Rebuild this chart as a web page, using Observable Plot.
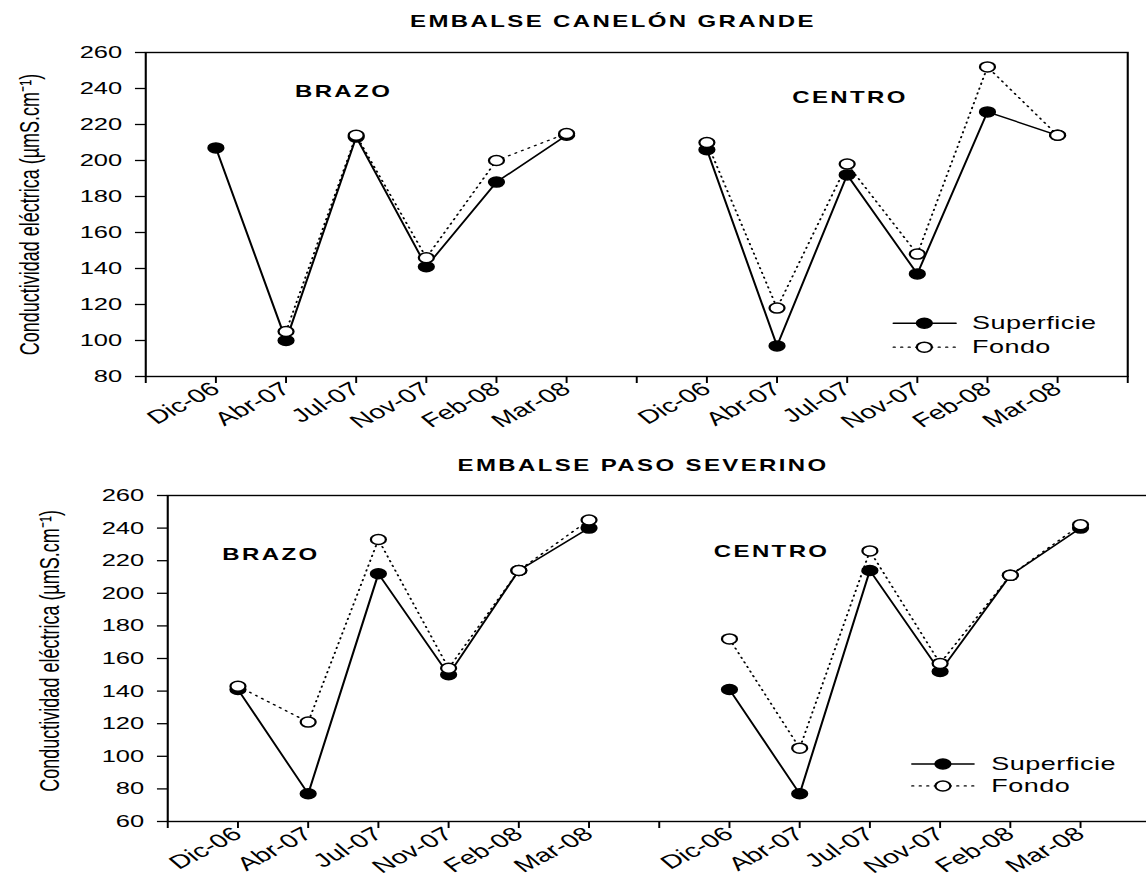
<!DOCTYPE html>
<html><head><meta charset="utf-8">
<script src="https://cdn.jsdelivr.net/npm/d3@7"></script>
<script src="https://cdn.jsdelivr.net/npm/@observablehq/plot@0.6"></script>
<style>
html,body{margin:0;padding:0;background:#fff;overflow:hidden;width:1146px;height:888px;}
#wrap{position:absolute;left:0;top:0;width:770px;height:888px;transform:scaleX(1.5);transform-origin:0 0;}
#wrap svg{position:absolute;left:0;overflow:visible;}
</style></head><body><div id="wrap"></div>
<script>
// ---- data ----
const fechas = ["Dic-06","Abr-07","Jul-07","Nov-07","Feb-08","Mar-08"];
const sitios = ["BRAZO","CENTRO"];
const series = ["Superficie","Fondo"];
const canelonSuperficieBrazo  = [207, 100, 213, 141, 188, 214];
const canelonFondoBrazo       = [null, 105, 214, 146, 200, 215];
const canelonSuperficieCentro = [206, 97, 192, 137, 227, 214];
const canelonFondoCentro      = [210, 118, 198, 148, 252, 214];
const pasoSuperficieBrazo     = [141, 77, 212, 150, 214, 240];
const pasoFondoBrazo          = [143, 121, 233, 154, 214, 245];
const pasoSuperficieCentro    = [141, 77, 214, 152, 211, 240];
const pasoFondoCentro         = [172, 105, 226, 157, 211, 242];
const yLabel = "Conductividad eléctrica (µmS.cm⁻¹)";

const FONT = "'Liberation Sans', Arial, sans-serif";
const DOTS = "1,4";

function rows(supB, fonB, supC, fonC) {
  const out = [];
  [[supB, fonB], [supC, fonC]].forEach(([sup, fon], s) => {
    fechas.forEach((f, i) => {
      out.push({pos: s * 7 + i + 1, valor: sup[i], serie: series[0], sitio: sitios[s]});
      out.push({pos: s * 7 + i + 1, valor: fon[i], serie: series[1], sitio: sitios[s]});
    });
  });
  return out;
}

function panel(opt) {
  const data = opt.data;
  const sup = data.filter(d => d.serie === "Superficie");
  const fon = data.filter(d => d.serie === "Fondo");
  const lg = opt.legend;
  return Plot.plot({
    width: 770, height: opt.height,
    marginTop: opt.mt, marginBottom: opt.mb, marginLeft: opt.ml, marginRight: opt.mr,
    style: {fontFamily: FONT, color: "black", background: "transparent", overflow: "visible"},
    x: {domain: [0, 14]},
    y: {domain: opt.yDomain},
    marks: [
      Plot.frame({stroke: "black", strokeWidth: 1.4}),
      Plot.axisY({ticks: d3.range(opt.yDomain[0], opt.yDomain[1] + 1, 20), tickSize: 6.7, tickPadding: 9,
        fontSize: 17, label: null, stroke: "black", strokeWidth: 1.3}),
      Plot.axisX({ticks: d3.range(0, 15), tickSize: 7, tickPadding: 3, tickRotate: -38, fontSize: 19,
        label: null, strokeWidth: 1.3,
        tickFormat: d => (d % 7 === 0 ? "" : fechas[(d % 7) - 1])}),
      Plot.line(fon, {x: "pos", y: "valor", z: "sitio", stroke: "black", strokeWidth: 1.3, strokeDasharray: DOTS}),
      Plot.line(sup, {x: "pos", y: "valor", z: "sitio", stroke: "black", strokeWidth: 1.4}),
      Plot.dot(sup.filter(d => d.valor != null), {x: "pos", y: "valor", r: 5, fill: "black", stroke: "black"}),
      Plot.dot(fon.filter(d => d.valor != null), {x: "pos", y: "valor", r: 5, fill: "white", stroke: "black", strokeWidth: 1.5}),
      // titles and labels
      Plot.text([opt.title], {x: opt.titleX, y: opt.titleY, fontSize: 16, fontWeight: "bold"}),
      Plot.text([sitios[0]], {x: opt.brazo[0], y: opt.brazo[1], fontSize: 16, fontWeight: "bold"}),
      Plot.text([sitios[1]], {x: opt.centro[0], y: opt.centro[1], fontSize: 16, fontWeight: "bold"}),
      Plot.text([yLabel], {x: opt.ylab[0], y: opt.ylab[1], rotate: -90, fontSize: 18}),
      // legend
      Plot.line([[lg.x0, lg.y1], [lg.x1, lg.y1]], {stroke: "black", strokeWidth: 1.4}),
      Plot.line([[lg.x0, lg.y2], [lg.x1, lg.y2]], {stroke: "black", strokeWidth: 1.3, strokeDasharray: DOTS}),
      Plot.dot([[lg.xc, lg.y1]], {r: 5, fill: "black", stroke: "black"}),
      Plot.dot([[lg.xc, lg.y2]], {r: 5, fill: "white", stroke: "black", strokeWidth: 1.5}),
      Plot.text([series[0]], {x: lg.xt, y: lg.y1, textAnchor: "start", fontSize: 18}),
      Plot.text([series[1]], {x: lg.xt, y: lg.y2, textAnchor: "start", fontSize: 18})
    ]
  });
}

const wrap = document.getElementById("wrap");

const top1 = panel({
  data: rows(canelonSuperficieBrazo, canelonFondoBrazo, canelonSuperficieCentro, canelonFondoCentro),
  height: 440, mt: 52, mb: 64, ml: 96.67, mr: 18.67, yDomain: [80, 260],
  title: "EMBALSE CANELÓN GRANDE", titleX: 6.66, titleY: 277,
  brazo: [2.82, 238.3], centro: [10.04, 235], ylab: [-1.64, 170],
  legend: {x0: 10.66, x1: 11.55, xc: 11.1, xt: 11.78, y1: 109.6, y2: 96.3}
});
top1.style.top = "0px";
wrap.appendChild(top1);

const bot = panel({
  data: rows(pasoSuperficieBrazo, pasoFondoBrazo, pasoSuperficieCentro, pasoFondoCentro),
  height: 448, mt: 55, mb: 67, ml: 111.33, mr: 3.33, yDomain: [60, 260],
  title: "EMBALSE PASO SEVERINO", titleX: 6.77, titleY: 278.4,
  brazo: [1.47, 223.7], centro: [8.6, 225.6], ylab: [-1.67, 164.7],
  legend: {x0: 10.6, x1: 11.48, xc: 11.04, xt: 11.73, y1: 95.3, y2: 81.8}
});
bot.style.top = "440px";
wrap.appendChild(bot);

wrap.querySelectorAll("text").forEach(t => {
  const s = t.textContent;
  if (s === "BRAZO" || s === "CENTRO" || s.startsWith("EMBALSE")) t.setAttribute("letter-spacing", "1.6");
  if (s === "Superficie" || s === "Fondo") t.setAttribute("letter-spacing", "0.3");
});
</script></body></html>
